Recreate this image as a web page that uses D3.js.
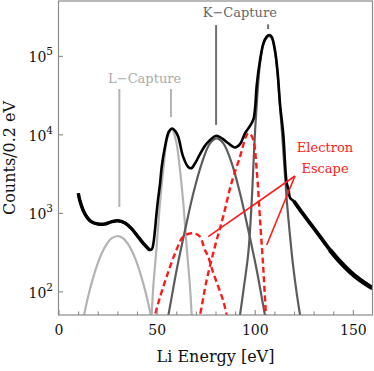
<!DOCTYPE html>
<html><head><meta charset="utf-8">
<script src="https://cdn.jsdelivr.net/npm/d3@7"></script>
<style>
body{margin:0;background:#fff}
text{font-family:"DejaVu Serif",serif}
</style>
</head><body>
<svg id="chart" width="374" height="371"></svg>
<script>
// ---------- data ----------
const xTickValues = [0, 50, 100, 150];
const xMinorTickValues = [10, 20, 30, 40, 60, 70, 80, 90, 110, 120, 130, 140];
const yTickValues = [1e2, 1e3, 1e4, 1e5];

// measured spectrum (Li energy in eV, counts / 0.2 eV)
const measuredEnergy = [10.1,10.8,13.3,16.7,20.1,23.5,26.9,30.3,33.7,37.1,40.5,43.9,46.4,47.6,48.3,49.0,49.8,50.7,51.7,52.6,54.2,56.2,58.0,59.5,61.0,63.5,66.0,67.6,69.6,72.1,75.5,80.3,83.5,86.5,89.9,92.5,95.0,97.6,99.3,100.2,101.0,102.7,104.4,106.1,107.3,108.6,110.3,111.7,112.9,114.5,116.3,117.2,118.0,120.0,123.1,128.2,133.3,138.3,143.4,148.5,153.6,158.7,160.0];
const measuredCounts = [1775,1460,986,771,721,720,770,794,748,635,497,390,337,345,400,550,895,1460,2300,3870,6800,10800,11900,11000,9330,5200,3870,3700,4280,5600,7600,9600,8800,7700,6800,7500,10300,12800,15500,22000,42000,88500,144500,175400,184500,175000,118800,60000,24000,10300,2380,2000,1550,1400,1090,736,498,337,239,178,140,115,110];

// L-capture fitted components (light grey)
const lCapture1Energy = [11.5,13.0,15.0,18.0,21.0,24.0,27.0,30.3,33.0,36.0,39.0,42.0,45.0,47.0,48.3];
const lCapture1Counts = [36,50,84,160,265,380,472,507,472,380,265,160,84,50,36];
const lCapture2Energy = [46.5,47.4,48.3,50.0,51.7,53.4,55.5,57.8,60.0,61.9,63.6,65.3,67.0,67.9,68.6];
const lCapture2Counts = [32,50,115,372,1325,3520,9000,11600,8000,3520,1325,372,115,50,32];

// K-capture fitted components (dark grey)
const kCapture1Energy = [54.8,56.0,60.2,64.5,68.7,73.0,77.2,80.6,84.0,88.3,92.5,96.7,101.0,105.2,106.4];
const kCapture1Counts = [36,50,187,605,1775,4280,7690,8900,7690,4280,1775,605,187,50,36];
const kCapture2Energy = [91.6,92.5,94.6,96.7,98.4,99.6,100.5,102.7,104.4,106.0,107.3,108.6,110.3,111.7,112.9,114.1,115.4,116.3,118.0,119.6,121.5,123.1,124.0];
const kCapture2Counts = [36,50,120,305,1325,5740,15240,80000,140000,170000,178000,170000,112000,56000,22000,9000,3000,1460,500,206,90,50,38];

// electron-escape components (red dashed)
const escape1Energy = [48.3,49.2,51.3,55.1,59.4,63.6,67.9,70.0,72.1,74.6,76.3,78.0,80.6,84.0,85.7,86.5];
const escape1Counts = [40,50,78,154,305,500,550,540,498,337,277,200,130,75,50,42];
const escape2Energy = [71.0,72.1,75.5,79.7,83.9,88.1,92.5,95.5,96.7,97.8,99.3,101.0,102.7,104.4,105.7,106.2];
const escape2Counts = [40,50,140,372,895,2380,5200,9330,10300,10000,8470,3520,811,187,50,35];

// annotation anchors (energy, counts)
const lMarkerEnergy = [31.0, 57.3];
const lMarkerTop = [37800, 37800];
const lMarkerBottom = [1190, 16600];
const kMarkerEnergy = [80.3, 106.8];
const kMarkerTop = [247000, 252000];
const kMarkerBottom = [13200, 220000];
const escapeLabelAnchor = [120.5, 2950];
const escapeTargetEnergy = [76.3, 106.1];
const escapeTargetCounts = [498, 390];

// ---------- chart ----------
const plot = {left: 58.5, right: 372.5, top: 1, bottom: 315};
const svg = d3.select("#chart");

const x = d3.scaleLinear().domain([0, 160]).range([plot.left, plot.right]);
const y = d3.scaleLog().domain([50, 5e5]).range([plot.bottom, plot.top]);

svg.append("defs").append("clipPath").attr("id", "clip")
  .append("rect").attr("x", plot.left).attr("y", plot.top)
  .attr("width", plot.right - plot.left).attr("height", plot.bottom - plot.top);

const line = d3.line().x(d => x(d[0])).y(d => y(d[1])).curve(d3.curveCatmullRom.alpha(0.5));
const g = svg.append("g").attr("clip-path", "url(#clip)");

const LGREY = "#b3b3b3", KGREY = "#5c5c5c", RED = "#ff1a1a";

function curve(pts, color, w, dash) {
  const p = g.append("path").datum(pts).attr("d", line)
    .attr("fill", "none").attr("stroke", color).attr("stroke-width", w)
    .attr("stroke-linejoin", "round").attr("stroke-linecap", "butt");
  if (dash) p.attr("stroke-dasharray", dash);
  return p;
}
curve(d3.zip(lCapture1Energy, lCapture1Counts), LGREY, 2.2);
curve(d3.zip(lCapture2Energy, lCapture2Counts), LGREY, 2.2);
curve(d3.zip(kCapture1Energy, kCapture1Counts), KGREY, 2.2);
curve(d3.zip(kCapture2Energy, kCapture2Counts), KGREY, 2.2);
curve(d3.zip(escape1Energy, escape1Counts), RED, 2.4, "6,3.5");
curve(d3.zip(escape2Energy, escape2Counts), RED, 2.4, "6,3.5");
const measured = d3.zip(measuredEnergy, measuredCounts);
curve(measured, "#000", 2.6);
// statistically noisy stretches of the spectrum look thicker in the reference
curve(measured.filter(d => d[0] <= 47), "#000", 3.4);
curve(measured.filter(d => d[0] >= 120 && d[0] < 140), "#000", 3.8);
curve(measured.filter(d => d[0] >= 138), "#000", 4.6);

// frame
svg.append("rect").attr("x", plot.left).attr("y", plot.top)
  .attr("width", plot.right - plot.left).attr("height", plot.bottom - plot.top)
  .attr("fill", "none").attr("stroke", "#8a8a8a").attr("stroke-width", 1.2);

// axes
const xAxis = svg.append("g").attr("transform", `translate(0,${plot.bottom})`)
  .call(d3.axisBottom(x).tickValues(xTickValues).tickSize(-5).tickPadding(10).tickFormat(d3.format("d")));
const xMinor = svg.append("g").attr("transform", `translate(0,${plot.bottom})`)
  .call(d3.axisBottom(x).tickValues(xMinorTickValues).tickSize(-3.5).tickFormat(""));
const yAxis = svg.append("g").attr("transform", `translate(${plot.left},0)`)
  .call(d3.axisLeft(y).tickValues(yTickValues).tickSize(-4.5).tickPadding(5.5));
[xAxis, xMinor, yAxis].forEach(a => {
  a.select(".domain").remove();
  a.selectAll(".tick line").attr("stroke", "#8a8a8a").attr("stroke-width", 1.1);
  a.selectAll("text").attr("fill", "#111").attr("font-family", "DejaVu Serif").attr("font-size", 14);
});
yAxis.selectAll(".tick text").each(function(d) {
  const t = d3.select(this);
  t.text("").attr("dy", "0.42em");
  t.append("tspan").text("10");
  t.append("tspan").text(Math.round(Math.log10(d))).attr("font-size", 10.5).attr("dy", -7);
});

// axis titles
svg.append("text").attr("x", (plot.left + plot.right) / 2).attr("y", 362)
  .attr("text-anchor", "middle").attr("font-size", 16).attr("fill", "#111").text("Li Energy [eV]");
svg.append("text").attr("transform", `translate(15,${(plot.top + plot.bottom) / 2}) rotate(-90)`)
  .attr("text-anchor", "middle").attr("font-size", 16).attr("fill", "#111").text("Counts/0.2 eV");

// annotations
const ann = svg.append("g");
lMarkerEnergy.forEach((e, i) => {
  ann.append("line").attr("x1", x(e)).attr("x2", x(e))
    .attr("y1", y(lMarkerTop[i])).attr("y2", y(lMarkerBottom[i]))
    .attr("stroke", LGREY).attr("stroke-width", 2);
});
kMarkerEnergy.forEach((e, i) => {
  ann.append("line").attr("x1", x(e)).attr("x2", x(e))
    .attr("y1", y(kMarkerTop[i])).attr("y2", y(kMarkerBottom[i]))
    .attr("stroke", "#707070").attr("stroke-width", 2);
});
ann.append("text").attr("x", x(d3.mean(lMarkerEnergy)) - 0.5).attr("y", 83.3)
  .attr("text-anchor", "middle").attr("font-size", 13).attr("fill", "#ababab").text("L\u2212Capture");
ann.append("text").attr("x", 239.8).attr("y", 17)
  .attr("text-anchor", "middle").attr("font-size", 13).attr("fill", "#666").text("K\u2212Capture");
escapeTargetEnergy.forEach((e, i) => {
  ann.append("line").attr("x1", x(escapeLabelAnchor[0])).attr("y1", y(escapeLabelAnchor[1]))
    .attr("x2", x(e)).attr("y2", y(escapeTargetCounts[i]))
    .attr("stroke", RED).attr("stroke-width", 1.6);
});
const et = ann.append("text").attr("text-anchor", "middle").attr("font-size", 13).attr("fill", RED);
et.append("tspan").attr("x", 325).attr("y", 152).text("Electron");
et.append("tspan").attr("x", 325).attr("y", 172.5).text("Escape");
</script>
</body></html>
